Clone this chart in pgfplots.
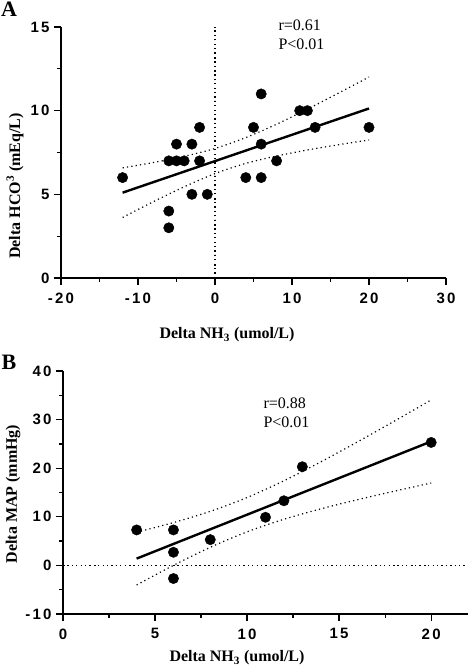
\documentclass[border=0pt]{standalone}
\usepackage{fontspec}
\setmainfont{Liberation Serif}
\newfontfamily\tickfont[LetterSpace=15]{Liberation Sans}
\usepackage{pgfplots}
\pgfplotsset{compat=1.18}
\pgfplotsset{
 mystyle/.style={
  scale only axis, anchor=south west,
  axis x line*=bottom, axis y line*=left,
  axis line style={line width=1.5pt},
  tick align=outside,
  major tick length=7pt, minor tick length=4pt,
  every tick/.style={line width=1.3pt, black},
  minor tick num=1,
  /pgf/number format/assume math mode=true,
  ticklabel style={font=\tickfont\bfseries\fontsize{15}{17}\selectfont},
  xticklabel style={yshift=-4pt},
  yticklabel style={xshift=-1pt},
  clip=false,
 },
 pts/.style={only marks, mark=*, mark size=5.2pt, black, mark options={fill=black}},
 fit/.style={black, line width=2.4pt, no marks},
 band/.style={black, line width=1.2pt, dash pattern=on 1.2pt off 3.2pt, no marks, smooth},
}
\begin{document}
\begin{tikzpicture}
\path[use as bounding box] (0pt,0pt) rectangle (468pt,667pt);
% Panel A
\begin{axis}[mystyle, at={(61pt,389pt)}, width=385pt, height=251pt,
  xmin=-20, xmax=30, ymin=0, ymax=15,
  xtick={-20,-10,0,10,20,30}, ytick={0,5,10,15}]
\addplot[band] coordinates {(0,0) (0,15)};
\addplot[band] coordinates {(-12,6.58) (-8,6.90) (-4,7.27) (0,7.74) (4,8.39) (8,9.19) (12,10.09) (16,11.04) (20,12.01)};
\addplot[band] coordinates {(-12,3.62) (-8,4.56) (-4,5.45) (0,6.24) (4,6.85) (8,7.29) (12,7.65) (16,7.96) (20,8.25)};
\addplot[fit] coordinates {(-12,5.10) (20,10.13)};
\addplot[pts] coordinates {(-12,6) (-6,7) (-6,4) (-6,3) (-5,8) (-5,7) (-4,7) (-3,8) (-3,5) (-2,9) (-2,7) (-1,5) (4,6) (5,9) (6,11) (6,8) (6,6) (8,7) (11,10) (12,10) (13,9) (20,9)};
\end{axis}
% Panel B
\begin{axis}[mystyle, at={(63pt,53pt)}, width=405pt, height=243pt,
  xmin=0, xmax=22, ymin=-10, ymax=40,
  xtick={0,5,10,15,20}, ytick={-10,0,10,20,30,40}]
\addplot[band] coordinates {(0,0) (22,0)};
\addplot[band] coordinates {(4,6.83) (6,8.81) (8,11.12) (10,13.97) (12,17.41) (14,21.29) (16,25.42) (18,29.69) (20,34.05)};
\addplot[band] coordinates {(4,-4.03) (6,0.01) (8,3.72) (10,6.91) (12,9.49) (14,11.63) (16,13.52) (18,15.27) (20,16.95)};
\addplot[fit] coordinates {(4,1.40) (20,25.50)};
\addplot[pts] coordinates {(4,7.3) (6,7.3) (6,2.7) (6,-2.7) (8,5.3) (11,9.9) (12,13.3) (13,20.3) (20,25.3)};
\end{axis}
% labels
\node[font=\bfseries\fontsize{22}{24}\selectfont] at (9pt,658pt) {A};
\node[font=\bfseries\fontsize{22}{24}\selectfont] at (9pt,305pt) {B};
\node[font=\bfseries\fontsize{16}{18}\selectfont] at (227pt,332pt) {Delta NH\textsubscript{3} (umol/L)};
\node[font=\bfseries\fontsize{16}{18}\selectfont] at (237pt,9pt) {Delta NH\textsubscript{3} (umol/L)};
\node[rotate=90, font=\bfseries\fontsize{16}{18}\selectfont] at (15pt,481pt) {Delta HCO\textsuperscript{3} (mEq/L)};
\node[rotate=90, font=\bfseries\fontsize{16}{18}\selectfont] at (13pt,173pt) {Delta MAP (mmHg)};
\node[anchor=west, font=\fontsize{16}{18}\selectfont] at (275pt,642pt) {r=0.61};
\node[anchor=west, font=\fontsize{16}{18}\selectfont] at (275pt,623pt) {P<0.01};
\node[anchor=west, font=\fontsize{16}{18}\selectfont] at (260pt,264pt) {r=0.88};
\node[anchor=west, font=\fontsize{16}{18}\selectfont] at (260pt,245pt) {P<0.01};
\end{tikzpicture}
\end{document}
